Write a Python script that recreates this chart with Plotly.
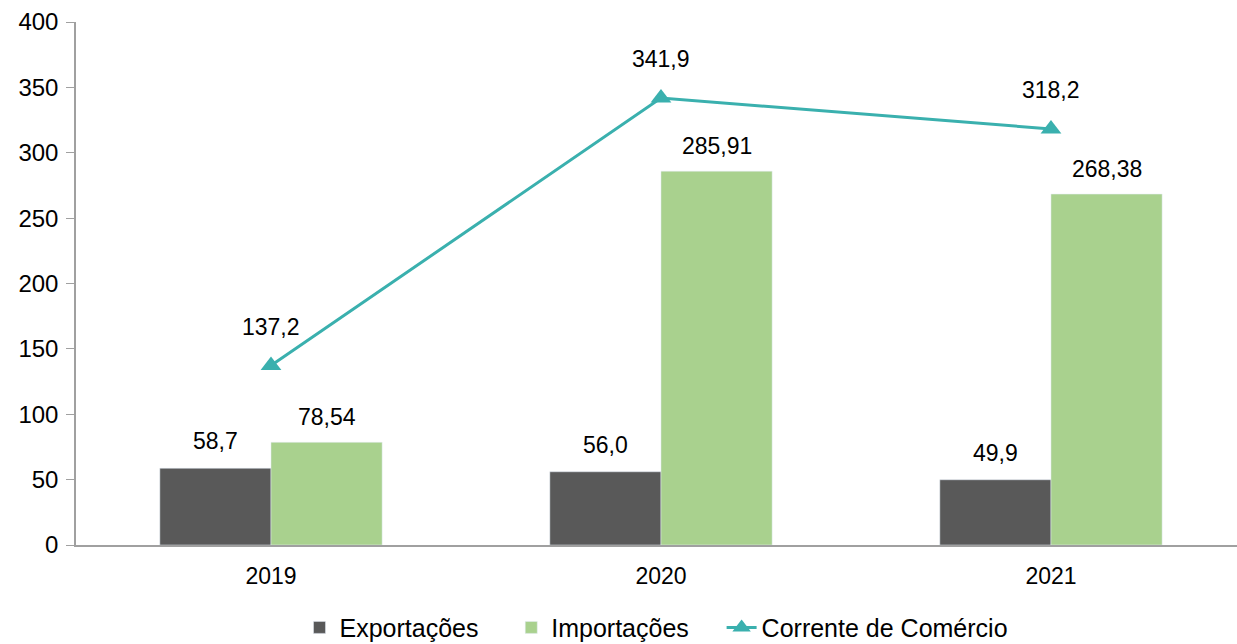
import plotly.graph_objects as go

anos = ["2019", "2020", "2021"]
exportacoes = [58.7, 56.0, 49.9]
importacoes = [78.54, 285.91, 268.38]
corrente = [137.2, 341.9, 318.2]
y_ticks = [0, 50, 100, 150, 200, 250, 300, 350, 400]
nomes = ["Exportações", "Importações", "Corrente de Comércio"]

def br(v, d):
    return f"{v:.{d}f}".replace(".", ",")

pad = "\u00a0" * 4
fig = go.Figure()
fig.add_trace(go.Bar(name=nomes[0] + pad, x=anos, y=exportacoes, marker_color="#595959"))
fig.add_trace(go.Bar(name=nomes[1] + pad, x=anos, y=importacoes, marker_color="#A9D18E"))
fig.add_trace(go.Scatter(name=nomes[2], x=anos, y=corrente, mode="lines+markers",
                         line=dict(color="#3AB0AE", width=3),
                         marker=dict(symbol="triangle-up", size=18, color="#3AB0AE")))

bargap = 0.43
half = (1 - bargap) / 4
ann = []
for i in range(3):
    ann.append(dict(x=i - half, y=exportacoes[i], text=br(exportacoes[i], 1), yshift=27))
    ann.append(dict(x=i + half, y=importacoes[i], text=br(importacoes[i], 2), yshift=25))
    ann.append(dict(x=i, y=corrente[i], text=br(corrente[i], 1), yshift=39))
for a in ann:
    a.update(xref="x", yref="y", showarrow=False, font=dict(size=23, color="#000000", family="Arial, Liberation Sans"))

fig.update_layout(
    width=1237, height=644,
    margin=dict(l=76, r=0, t=22, b=99, autoexpand=False),
    plot_bgcolor="white", paper_bgcolor="white",
    barmode="group", bargap=bargap, bargroupgap=0,
    font=dict(family="Arial, Liberation Sans", size=23, color="#000000"),
    annotations=ann,
    legend=dict(orientation="h", x=0.5, xanchor="center", y=-0.158, yanchor="middle",
                font=dict(family="Liberation Sans Narrow, Arial Narrow, Arial", size=25),
                traceorder="normal"),
    xaxis=dict(type="category", range=[-0.5, 2.477], showline=True, linecolor="#A0A0A0", linewidth=1.5,
               ticks="outside", ticklen=10, tickcolor="rgba(0,0,0,0)", tickfont=dict(size=23),
               showgrid=False, automargin=False),
    yaxis=dict(range=[0, 400], tickvals=y_ticks, showline=True, linecolor="#A0A0A0", linewidth=1.5,
               ticks="outside", ticklen=8, tickcolor="#A0A0A0", showgrid=False, zeroline=False,
               tickfont=dict(size=24), ticklabelstandoff=3, automargin=False),
)
fig.write_html("out.html", config={"displayModeBar": False},
               post_script="document.body.style.margin='0';document.body.style.overflow='hidden';")
